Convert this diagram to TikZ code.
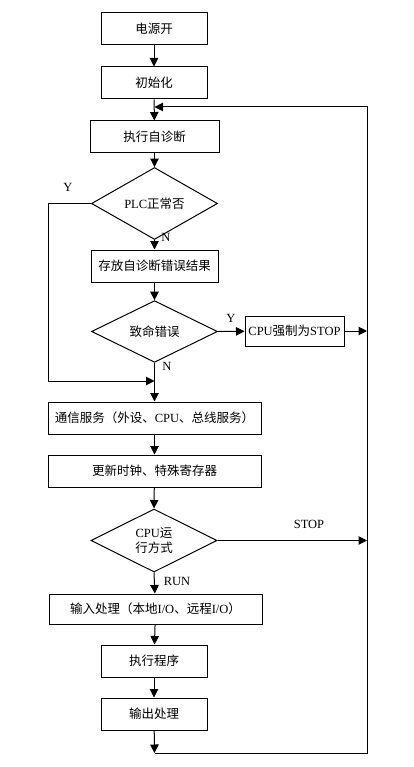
\documentclass[tikz,border=0pt]{standalone}
\usepackage{fontspec}
\setmainfont{Liberation Serif}
\newfontfamily\cjk{Noto Sans CJK SC}
\usetikzlibrary{shapes.geometric,arrows.meta}
\begin{document}
\begin{tikzpicture}[x=1pt,y=-1pt,
  font=\fontsize{12.5}{14.5}\selectfont,
  box/.style={draw,line width=1pt,rectangle,inner sep=0pt,minimum height=32pt},
  dia/.style={draw,line width=1pt,diamond,inner sep=0pt,minimum width=126pt,minimum height=55pt,align=center},
  conn/.style={line width=1pt},
  arr/.style={line width=1pt,-{Triangle[length=8.5pt,width=8.5pt]}},
  lbl/.style={inner sep=0pt}]
\useasboundingbox (0,0) rectangle (414,767);
\fill[white] (0,0) rectangle (414,767);

\node[box,minimum width=106pt] (power) at (154,29) {\cjk 电源开};
\node[box,minimum width=106pt] (init) at (154,83) {\cjk 初始化};
\node[box,minimum width=129pt] (diag) at (154.5,137) {\cjk 执行自诊断};
\node[dia] (plc) at (154.5,203.5) {PLC{\cjk 正常否}};
\node[box,minimum width=127pt] (store) at (154.5,266) {\cjk 存放自诊断错误结果};
\node[dia] (fatal) at (154.5,331.5) {\cjk 致命错误};
\node[box,minimum width=99pt,minimum height=30pt] (stopbox) at (294.5,331) {CPU{\cjk 强制为}STOP};
\node[box,minimum width=213pt] (comm) at (154.5,418) {{\cjk 通信服务（外设、}CPU{\cjk 、总线服务）}};
\node[box,minimum width=213pt] (update) at (154.5,471) {\cjk 更新时钟、特殊寄存器};
\node[dia,minimum height=63pt] (mode) at (154,540.5) {CPU{\cjk 运}\\{\cjk 行方式}};
\node[box,minimum width=213pt,minimum height=30pt] (input) at (155.5,609) {{\cjk 输入处理（本地}I/O{\cjk 、远程}I/O{\cjk ）}};
\node[box,minimum width=106pt] (exec) at (154,661) {\cjk 执行程序};
\node[box,minimum width=106pt] (output) at (154,714) {\cjk 输出处理};

\coordinate (top) at (154.5,107);
\coordinate (rt) at (367,107);
\coordinate (rb) at (367,753);
\coordinate (bot) at (154.5,753);
\coordinate (merge) at (154.5,381);
\coordinate (lt) at (48,203.5);
\coordinate (lb) at (48,381);
\coordinate (rs) at (367,331);
\coordinate (rm) at (367,540.5);

\node[lbl] (ly1) at (68,187) {Y};
\node[lbl] (ln1) at (166,237) {N};
\node[lbl] (ly2) at (231,318) {Y};
\node[lbl] (ln2) at (167,366) {N};
\node[lbl] (lstop) at (309,524) {STOP};
\node[lbl] (lrun) at (177,581) {RUN};

\draw[arr] (power) -- (init);
\draw[arr] (init) -- (diag);
\draw[arr] (diag) -- (plc.north);
\draw[arr] (plc.south) -- (store);
\draw[arr] (store) -- (fatal.north);
\draw[arr] (fatal.east) -- (stopbox);
\draw[arr] (stopbox) -- (rs);
\draw[conn] (plc.west) -- (lt) -- (lb);
\draw[arr] (lb) -- (merge);
\draw[arr] (fatal.south) -- (comm);
\draw[arr] (comm) -- (update);
\draw[arr] (update) -- (mode.north);
\draw[arr] (mode.east) -- (rm);
\draw[arr] (mode.south) -- (input);
\draw[arr] (input) -- (exec);
\draw[arr] (exec) -- (output);
\draw[arr] (output) -- (bot);
\draw[arr] (bot) -- (rb) -- (rt) -- (top);
\end{tikzpicture}
\end{document}
